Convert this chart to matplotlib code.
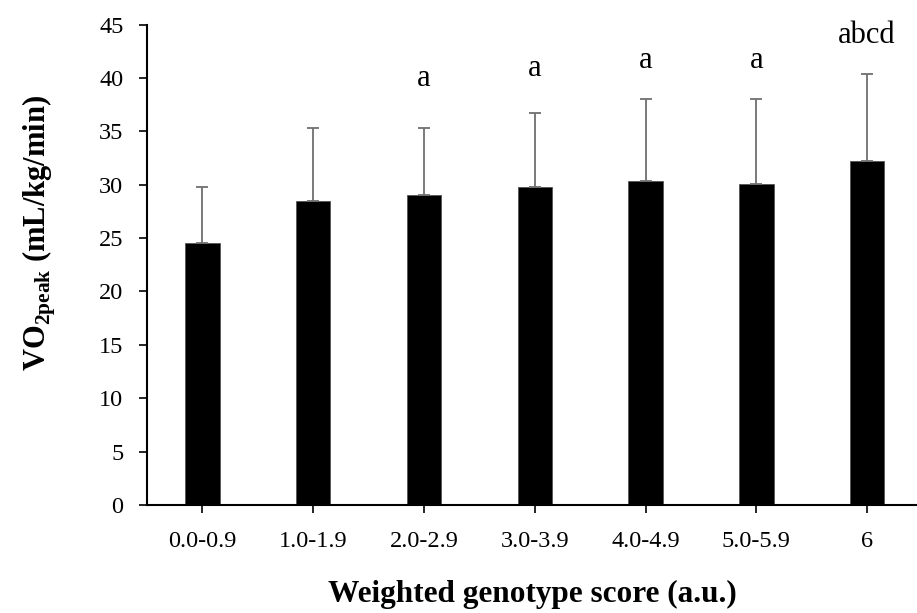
import matplotlib
matplotlib.use('Agg')
import matplotlib.pyplot as plt
import numpy as np

# ============================================================
# Data
# ============================================================
categories = ['0.0-0.9', '1.0-1.9', '2.0-2.9', '3.0-3.9', '4.0-4.9', '5.0-5.9', '6']
vo2_mean   = [24.5, 28.5, 29.0, 29.8, 30.3, 30.1, 32.2]
vo2_sd     = [5.3, 6.8, 6.35, 6.9, 7.7, 7.9, 8.2]
sig_labels = ['', '', 'a', 'a', 'a', 'a', 'abcd']
sig_y      = [0, 0, 39.2, 40.2, 40.9, 40.9, 43.3]
y_ticks    = list(range(0, 50, 5))

# ============================================================
# Style
# ============================================================
plt.rcParams['font.family'] = ['Liberation Serif', 'DejaVu Serif']
plt.rcParams['mathtext.fontset'] = 'custom'
plt.rcParams['mathtext.rm'] = 'Liberation Serif'
plt.rcParams['mathtext.bf'] = 'Liberation Serif:bold'

fig = plt.figure(figsize=(9.17, 6.13), dpi=100)
ax = fig.add_axes([0.1603, 0.1762, 0.8397, 0.7838])

x = np.arange(len(categories))
ax.bar(x, vo2_mean, width=0.31, color='black', edgecolor='#555555', linewidth=0.6,
       yerr=[np.zeros(len(vo2_sd)), vo2_sd],
       error_kw=dict(ecolor='#707070', elinewidth=1.3, capsize=4.3, capthick=1.3),
       zorder=2)

for xi, lab, yy in zip(x, sig_labels, sig_y):
    if lab:
        ax.text(xi, yy, lab, ha='center', va='baseline', fontsize=22)

ax.set_xlim(-0.5, 6.45)
ax.set_ylim(0, 45)
ax.set_yticks(y_ticks)
ax.set_xticks(x)
ax.set_xticklabels(categories)

ax.spines['top'].set_visible(False)
ax.spines['right'].set_visible(False)
ax.spines['left'].set_linewidth(1.5)
ax.spines['bottom'].set_linewidth(1.5)
ax.tick_params(axis='both', direction='out', length=6, width=1.2, labelsize=17.5)
ax.tick_params(axis='x', pad=13)
ax.tick_params(axis='y', pad=11)

ax.set_xlabel('Weighted genotype score (a.u.)', fontsize=22.5, fontweight='bold', labelpad=20)
ax.set_ylabel(r'VO$_{\mathbf{2peak}}$ (mL/kg/min)', fontsize=22, fontweight='bold')
ax.yaxis.set_label_coords(-0.115, 0.566)

plt.savefig('out.png', dpi=100)
plt.close()
